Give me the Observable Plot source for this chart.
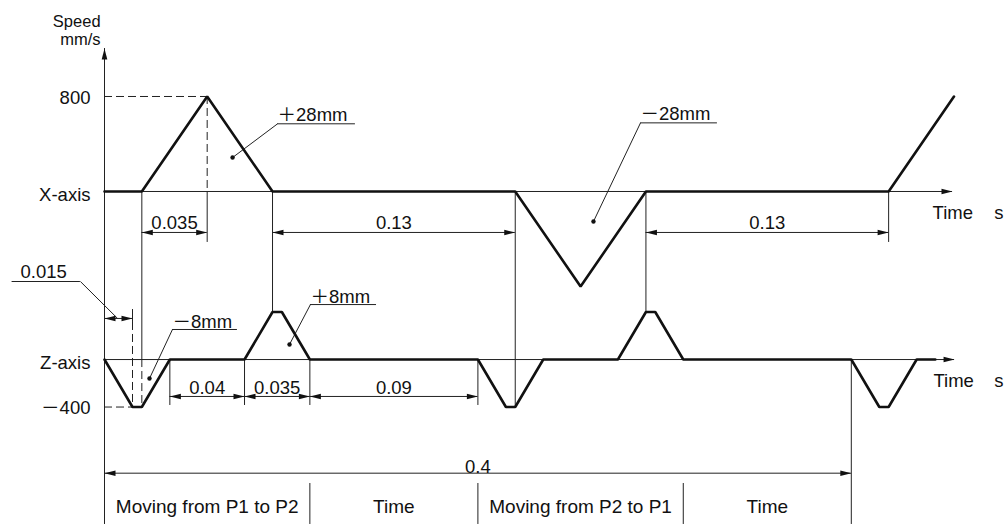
<!DOCTYPE html>
<html><head><meta charset="utf-8">
<script src="https://cdn.jsdelivr.net/npm/d3@7"></script>
<script src="https://cdn.jsdelivr.net/npm/@observablehq/plot@0.6"></script>
<style>
html,body{margin:0;padding:0;background:#fff;}
#chart svg{display:block}
</style></head><body><div id="chart"></div>
<script>
// ---- data (time in s, speed in mm/s) ----
const xTime  = [0, 0.02, 0.055, 0.09, 0.22, 0.255, 0.29, 0.42, 0.455];
const xSpeed = [0, 0, 800, 0, 0, -800, 0, 0, 800];
const zTime  = [0, 0.015, 0.02, 0.035, 0.075, 0.09, 0.095, 0.11, 0.2, 0.215, 0.22, 0.235, 0.275, 0.29, 0.295, 0.31, 0.4, 0.415, 0.42, 0.435, 0.445];
const zSpeed = [0, -400, -400, 0, 0, 400, 400, 0, 0, -400, -400, 0, 0, 400, 400, 0, 0, -400, -400, 0, 0];

const dimXStart = [0.02, 0.09, 0.29];
const dimXEnd   = [0.055, 0.22, 0.42];
const dimXLabel = ["0.035", "0.13", "0.13"];
const dimZStart = [0.035, 0.075, 0.11];
const dimZEnd   = [0.075, 0.11, 0.2];
const dimZLabel = ["0.04", "0.035", "0.09"];
const cycleStart = 0, cycleEnd = 0.4, cycleLabel = "0.4";
const pauseStart = 0, pauseEnd = 0.015, pauseLabel = "0.015";

const phaseStart = [0, 0.11, 0.2, 0.31];
const phaseEnd   = [0.11, 0.2, 0.31, 0.4];
const phaseLabel = ["Moving from P1 to P2", "Time", "Moving from P2 to P1", "Time"];

const strokeLabel = ["＋28mm", "－28mm", "－8mm", "＋8mm"];
const strokeAxis  = ["X", "X", "Z", "Z"];
const speedTicks  = [800, -400];
const speedTickLabel = ["800", "－400"];
const axisNames = ["X-axis", "Z-axis"];

// ---- layout (in scale units: seconds / mm/s) ----
const ZOFF = -1415;           // Z lane baseline offset
const FONT = "'Liberation Sans', Arial, 'Noto Sans CJK JP', sans-serif";
const FS = 18.5;
const ink = "#111", thin = "#222";

const xRows = xTime.map((t, i) => ({t, v: xSpeed[i]}));
const zRows = zTime.map((t, i) => ({t, v: zSpeed[i] + ZOFF}));

const yDimX = -345, yDimXLab = -266, yExtX = -429;
const yDimZ = -1726, yDimZLab = -1656, yExtZ = -1802;
const yCycle = -2372, yCycleLab = -2320;
const yPause = -1069, yPauseLab = -680, yPauseUL = -758;
const yDivTop = -2459, yBottom = -2804, yAxisTop = 1204;
const yPhaseLab = -2660;
const xAxisEnd = 0.4542, zAxisEnd = 0.4553;

const dims = [];
dimXStart.forEach((a, i) => dims.push({a, b: dimXEnd[i], y: yDimX, ly: yDimXLab, label: dimXLabel[i]}));
dimZStart.forEach((a, i) => dims.push({a, b: dimZEnd[i], y: yDimZ, ly: yDimZLab, label: dimZLabel[i]}));
dims.push({a: cycleStart, b: cycleEnd, y: yCycle, ly: yCycleLab, label: cycleLabel});

const hRules = [
  {x1: 0, x2: xAxisEnd, y: 0},
  {x1: 0, x2: zAxisEnd, y: ZOFF},
  {x1: pauseStart, x2: pauseEnd, y: yPause},
  {x1: -0.0495, x2: -0.0129, y: yPauseUL},
  ...dims.map(d => ({x1: d.a, x2: d.b, y: d.y}))
];
const hDashed = [
  {x1: 0, x2: xTime[2], y: speedTicks[0]},
  {x1: 0, x2: zTime[1], y: speedTicks[1] + ZOFF}
];
const vRules = [
  {t: 0, y1: yAxisTop, y2: yBottom},
  {t: 0.02, y1: 0, y2: ZOFF},
  {t: 0.09, y1: 0, y2: 400 + ZOFF},
  {t: 0.22, y1: 0, y2: -400 + ZOFF},
  {t: 0.29, y1: 0, y2: 400 + ZOFF},
  {t: 0.42, y1: 0, y2: yExtX},
  {t: 0.055, y1: 0, y2: yExtX},
  {t: 0.035, y1: ZOFF, y2: yExtZ},
  {t: 0.075, y1: ZOFF, y2: yExtZ},
  {t: 0.11, y1: ZOFF, y2: yExtZ},
  {t: 0.2, y1: ZOFF, y2: yExtZ},
  {t: 0.4, y1: ZOFF, y2: yBottom},
  {t: 0.015, y1: -994, y2: -1103},
  ...phaseStart.slice(1).map(t => ({t, y1: yDivTop, y2: yBottom}))
];
const vDashed = [
  {t: 0.055, y1: 800, y2: 0},
  {t: 0.015, y1: -1103, y2: -400 + ZOFF},
  {t: 0.02, y1: ZOFF, y2: -400 + ZOFF}
];

const heads = [
  {t: 0, y: yAxisTop, r: -90},
  {t: xAxisEnd, y: 0, r: 0},
  {t: zAxisEnd, y: ZOFF, r: 0},
  {t: pauseStart, y: yPause, r: 180},
  {t: pauseEnd, y: yPause, r: 0},
  ...dims.flatMap(d => [{t: d.a, y: d.y, r: 180}, {t: d.b, y: d.y, r: 0}])
];
const arrowSym = {draw(ctx) { ctx.moveTo(0, 0); ctx.lineTo(-11, -2.8); ctx.lineTo(-11, 2.8); ctx.closePath(); }};

// stroke annotations: text start, underline end, dot position
const callouts = [
  {tx: 0.0927, ux: 0.1344, ty: 640, uy: 570, dx: 0.0686, dy: 286},
  {tx: 0.2871, ux: 0.3283, ty: 648, uy: 578, dx: 0.2619, dy: -253},
  {tx: 0.0364, ux: 0.0712, ty: -1100, uy: -1162, dx: 0.0241, dy: -1575},
  {tx: 0.1103, ux: 0.1457, ty: -890, uy: -952, dx: 0.0991, dy: -1288}
].map((c, i) => ({...c, label: strokeLabel[i], axis: strokeAxis[i]}));
callouts.forEach(c => hRules.push({x1: c.tx, x2: c.ux, y: c.uy}));

const unitLabels = [
  {t: -0.0021, y: 1427, s: "Speed"},
  {t: -0.0021, y: 1276, s: "mm/s"}
];
const leftLabels = [
  {t: -0.0075, y: 788, s: speedTickLabel[0]},
  {t: -0.0075, y: -28, s: axisNames[0]},
  {t: -0.0075, y: -1443, s: axisNames[1]},
  {t: -0.0075, y: -1822, s: speedTickLabel[1]}
];
const timeLabels = [
  {t: 0.4435, y: -180, s: "Time"}, {t: 0.4765, y: -180, s: "s"},
  {t: 0.4440, y: -1595, s: "Time"}, {t: 0.4765, y: -1595, s: "s"}
];
const midLabels = [
  ...dims.map(d => ({t: (d.a + d.b) / 2, y: d.ly, s: d.label})),
  {t: -0.0326, y: yPauseLab, s: pauseLabel}
];
const phaseRows = phaseStart.map((a, i) => ({t: (a + phaseEnd[i]) / 2, y: yPhaseLab, s: phaseLabel[i]}));

const chart = Plot.plot({
  width: 1004, height: 524, margin: 0,
  x: {domain: [-104 / 1867, 900 / 1867], axis: null},
  y: {domain: [-2804.2, 1608.4], axis: null},
  style: {background: "#fff", fontFamily: FONT},
  marks: [
    Plot.ruleX(vRules, {x: "t", y1: "y1", y2: "y2", stroke: thin, strokeWidth: 1}),
    Plot.ruleX(vDashed, {x: "t", y1: "y1", y2: "y2", stroke: thin, strokeWidth: 1, strokeDasharray: "8,4"}),
    Plot.ruleY(hRules, {y: "y", x1: "x1", x2: "x2", stroke: thin, strokeWidth: 1}),
    Plot.ruleY(hDashed, {y: "y", x1: "x1", x2: "x2", stroke: thin, strokeWidth: 1, strokeDasharray: "8,4"}),
    Plot.link(callouts, {x1: "tx", y1: "uy", x2: "dx", y2: "dy", stroke: thin, strokeWidth: 1}),
    Plot.link([{}], {x1: -0.0129, y1: yPauseUL, x2: 0.007, y2: yPause, stroke: thin, strokeWidth: 1}),
    Plot.dot(callouts, {x: "dx", y: "dy", r: 2.2, fill: ink, stroke: "none"}),
    Plot.line(xRows, {x: "t", y: "v", stroke: ink, strokeWidth: 2.6, strokeLinejoin: "miter"}),
    Plot.line(zRows, {x: "t", y: "v", stroke: ink, strokeWidth: 2.6, strokeLinejoin: "miter"}),
    Plot.dot(heads, {x: "t", y: "y", rotate: "r", symbol: arrowSym, fill: ink, stroke: "none", r: 4}),
    Plot.text(unitLabels, {x: "t", y: "y", text: "s", textAnchor: "end", fontSize: 16.5, fill: ink}),
    Plot.text(leftLabels, {x: "t", y: "y", text: "s", textAnchor: "end", fontSize: FS, fill: ink}),
    Plot.text(timeLabels, {x: "t", y: "y", text: "s", textAnchor: "start", fontSize: FS, fill: ink}),
    Plot.text(midLabels, {x: "t", y: "y", text: "s", textAnchor: "middle", fontSize: FS, fill: ink}),
    Plot.text(phaseRows, {x: "t", y: "y", text: "s", textAnchor: "middle", fontSize: 19, fill: ink}),
    Plot.text(callouts, {x: "tx", y: "ty", text: "label", textAnchor: "start", fontSize: FS, fill: ink})
  ]
});
document.getElementById("chart").appendChild(chart);
</script>
</body></html>
